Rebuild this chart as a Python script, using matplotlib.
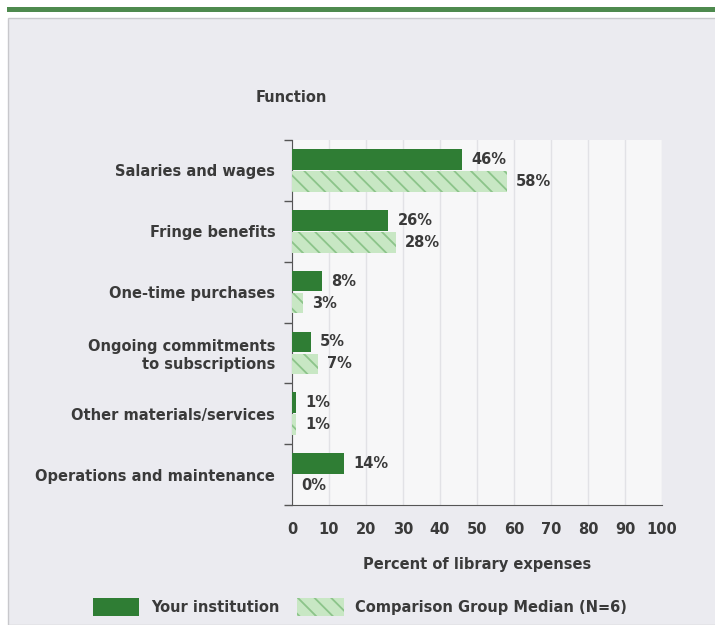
import matplotlib
matplotlib.use("Agg")
import matplotlib.pyplot as plt
import numpy as np
from matplotlib.patches import Rectangle

categories = ["Salaries and wages", "Fringe benefits", "One-time purchases",
              "Ongoing commitments\nto subscriptions", "Other materials/services",
              "Operations and maintenance"]
your_inst = [46, 26, 8, 5, 1, 14]
comparison = [58, 28, 3, 7, 1, 0]
xticks = [0, 10, 20, 30, 40, 50, 60, 70, 80, 90, 100]
series_names = ["Your institution", "Comparison Group Median (N=6)"]

DARK = "#2f7d34"
LIGHT = "#c8e7c4"
HATCH = "#8cc48a"
TXT = "#3a3a3a"
BG = "#ebebf0"
FS = 10.5

plt.rcParams['font.family'] = ['DejaVu Sans']
plt.rcParams['hatch.color'] = HATCH
plt.rcParams['hatch.linewidth'] = 1.3

fig = plt.figure(figsize=(7.15, 6.25), dpi=100)
fig.patch.set_facecolor("white")
fig.patches.append(Rectangle((8/715, 0), 1, 1 - 18/625, transform=fig.transFigure,
                             facecolor=BG, edgecolor="#c8c8cc", linewidth=1, zorder=-10))
fig.patches.append(Rectangle((7/715, 1 - 12/625), 1, 5/625, transform=fig.transFigure,
                             facecolor="#4e8a4e", edgecolor="none", zorder=-9))

ax = fig.add_axes([292/715, 1 - 505/625, 370/715, 365/625])
ax.set_facecolor("#f7f7f8")
y = np.arange(len(categories))
h = 0.34
off = 0.18
ax.barh(y - off, your_inst, height=h, color=DARK, edgecolor="none", zorder=3,
        label=series_names[0])
ax.barh(y + off, comparison, height=h, color=LIGHT, edgecolor=HATCH, linewidth=0,
        hatch="\\\\", zorder=3, label=series_names[1])

for yi, v in zip(y, your_inst):
    ax.text(v + 2.5, yi - off, f"{v}%", va="center", ha="left", fontsize=FS,
            fontweight="bold", color=TXT)
for yi, v in zip(y, comparison):
    ax.text(v + 2.5, yi + off, f"{v}%", va="center", ha="left", fontsize=FS,
            fontweight="bold", color=TXT)

ax.set_xlim(0, 100)
ax.set_ylim(len(categories) - 0.5, -0.5)
ax.set_xticks(xticks)
ax.set_xticklabels([str(t) for t in xticks], fontsize=FS, color=TXT, fontweight="bold")
ax.tick_params(axis="x", length=0, pad=12)
ax.set_yticks(y)
ax.set_yticklabels(categories, fontsize=FS, color=TXT, fontweight="bold",
                   multialignment="right")
ax.tick_params(axis="y", which="major", length=0, pad=12)
ax.set_yticks(np.arange(-0.5, len(categories)), minor=True)
ax.tick_params(axis="y", which="minor", length=6, color="#555555", width=1)
ax.grid(axis="x", color="#e2e2e6", linewidth=1, zorder=0)
for s in ["top", "right"]:
    ax.spines[s].set_visible(False)
ax.spines["left"].set_color("#555555")
ax.spines["bottom"].set_color("#555555")

ax.set_xlabel("Percent of library expenses", fontsize=FS, fontweight="bold",
              color=TXT, labelpad=15)
fig.text(291/715, 1 - 98/625, "Function", ha="center", va="center", fontsize=FS,
         fontweight="bold", color=TXT)

leg = fig.legend(loc="center", bbox_to_anchor=(360/715, 1 - 607/625), ncol=2,
                 frameon=False, fontsize=FS, handlelength=3.2, handleheight=1.6,
                 columnspacing=1.2, handletextpad=0.8)
for t in leg.get_texts():
    t.set_color(TXT)
    t.set_fontweight("bold")

fig.savefig("out.png", dpi=100, facecolor=fig.get_facecolor())
